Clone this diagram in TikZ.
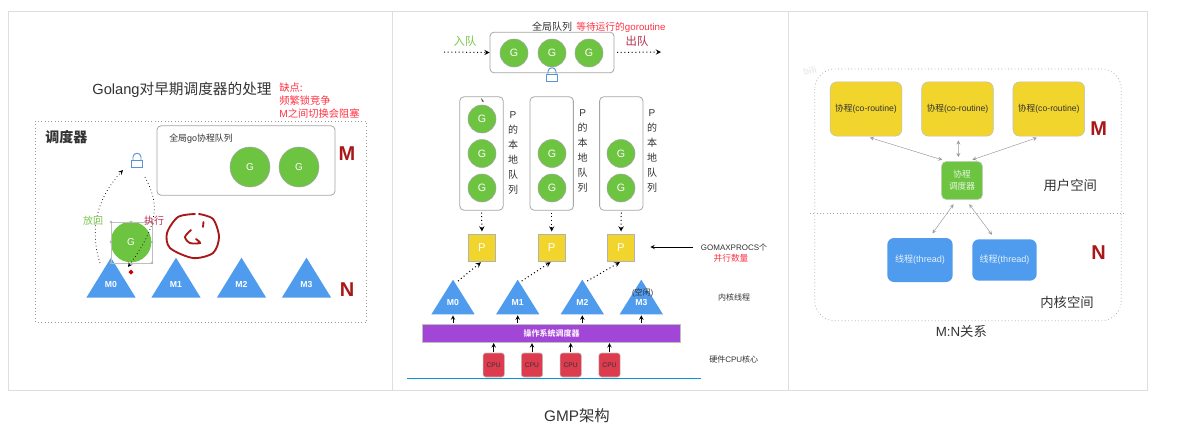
\documentclass[tikz,border=0pt]{standalone}
\usepackage{fontspec}
\usepackage{xcolor}
\usetikzlibrary{shapes.geometric}
\setmainfont{Liberation Sans}
\newfontfamily\cjk{Noto Sans CJK SC}
\newcommand{\zh}[1]{{\cjk #1}}
\definecolor{gogreen}{HTML}{6CC440}
\definecolor{triblue}{HTML}{4F9BEE}
\definecolor{boxyellow}{HTML}{F2D52C}
\definecolor{bandpurple}{HTML}{A246D8}
\definecolor{cpured}{HTML}{DD3B4E}
\definecolor{markred}{HTML}{A81818}
\definecolor{notered}{HTML}{FF3344}
\definecolor{inkgray}{HTML}{333333}
\definecolor{txtgreen}{HTML}{7CC850}
\definecolor{txtcrimson}{HTML}{B83050}
\definecolor{lockblue}{HTML}{5B94D6}
\begin{document}
\begin{tikzpicture}[x=0.75pt,y=-0.75pt,
  txt/.style={inner sep=0,text=inkgray,font=\fontsize{#1}{#1}\selectfont},
  redtxt/.style={inner sep=0,text=notered,anchor=west,font=\fontsize{#1}{#1}\selectfont},
  gnode/.style={circle,draw=black!35,fill=gogreen,text=white,inner sep=0,minimum size=#1,font=\fontsize{7.5}{7.5}\selectfont},
  tri/.style={isosceles triangle,isosceles triangle stretches,shape border rotate=90,anchor=apex,fill=triblue,inner sep=0,text=white,text depth=2.5pt,minimum height=#1,minimum width=37pt,font=\bfseries\fontsize{6.5}{6.5}\selectfont},
  qbox/.style={draw=black!35,fill=white,rounded corners=3pt,inner sep=0},
  pnode/.style={draw=black!30,fill=boxyellow,inner sep=0,minimum width=20.5pt,minimum height=20.5pt,text=white,font=\fontsize{8.5}{8.5}\selectfont},
  cpunode/.style={draw=black!25,fill=cpured,rounded corners=2pt,inner sep=0,minimum width=16pt,minimum height=18pt,text=inkgray,font=\fontsize{5}{5}\selectfont},
  conode/.style={draw=black!25,fill=boxyellow,rounded corners=5pt,inner sep=0,minimum width=53.7pt,minimum height=40.7pt,text=inkgray,font=\fontsize{6.5}{6.5}\selectfont},
  thnode/.style={fill=triblue,rounded corners=5pt,inner sep=0,text=white!85!triblue,font=\fontsize{6.8}{6.8}\selectfont},
  dotarr/.style={-stealth,dotted,line width=0.75pt,black},
  thinarr/.style={-stealth,line width=0.5pt,black},
  grayarr/.style={stealth-stealth,line width=0.35pt,black!40},
  bigmark/.style={inner sep=0,text=markred,font=\bfseries\fontsize{15}{15}\selectfont},
  vtxt/.style={inner sep=0,text=inkgray,align=center,font=\fontsize{7.5}{11.25}\selectfont},
  lockpic/.pic={\draw[lockblue,line width=0.7pt] (-5.5,0) rectangle (5.5,7);
    \draw[lockblue,line width=0.7pt] (-4,0) -- (-4,-3) .. controls (-4,-8) and (4,-8) .. (4,-3) -- (4,0);}]
\fill[white] (0,0) rectangle (1177,429);
\useasboundingbox (0,0) rectangle (1177,429);
\draw[black!13,line width=0.6pt] (8.5,11.5) rectangle (1147,390);
\draw[black!13,line width=0.6pt] (392,11.5) -- (392,390);
\draw[black!13,line width=0.6pt] (788,11.5) -- (788,390);
\node[txt=11] (title) at (182,90) {Golang\zh{对早期调度器的处理}};
\node[redtxt=7.7] (notea) at (279,88) {\zh{缺点:}};
\node[redtxt=7.7] (noteb) at (279,101) {\zh{频繁锁竞争}};
\node[redtxt=7.7] (notec) at (279,114) {M\zh{之间切换会阻塞}};
\draw[black!40,dotted,line width=0.5pt] (35.5,121) rectangle (366,322);
\node[txt=10.5,anchor=west,font=\bfseries\fontsize{10.5}{10.5}\selectfont] (sched) at (45,137) {\zh{调度器}};
\node[qbox,minimum width=133.5pt,minimum height=52pt,line width=0.6pt] (gqueue) at (246,160.5) {};
\node[txt=6.7,anchor=west] (gqlabel) at (169,139) {\zh{全局}go\zh{协程队列}};
\node[gnode=30pt] (ga) at (250,167) {G};
\node[gnode=30pt] (gb) at (299,167) {G};
\node[bigmark] (mleft) at (347,154) {M};
\node[bigmark] (nleft) at (347,290) {N};
\pic at (137,160) {lockpic};
\node[tri=30pt] (ma) at (111,257) {M0};
\node[tri=30pt] (mb) at (176,257) {M1};
\node[tri=30pt] (mc) at (241.5,257) {M2};
\node[tri=30pt] (md) at (306.5,257) {M3};
\node[gnode=30.5pt,draw=none] (grun) at (131,242) {G};
\draw[black!25,line width=0.3pt] (111,222) rectangle (152,263);
\fill[black!30] (111,222) circle (1.3) (131,222) circle (1.3) (152,222) circle (1.3) (111,242) circle (1.3) (152,242) circle (1.3) (111,263) circle (1.3) (152,263) circle (1.3);
\fill[red!80!black] (131,269.5) -- (133.5,272) -- (131,274.5) -- (128.5,272) -- cycle;
\coordinate (putstart) at (100,263);
\coordinate (putend) at (123,170);
\coordinate (runstart) at (145,177);
\coordinate (runend) at (128,267);
\draw[dotarr,line width=0.55pt] (putstart) .. controls (88,225) and (100,195) .. (putend);
\draw[dotarr,line width=0.55pt] (runstart) .. controls (160,205) and (158,225) .. (runend);
\node[inner sep=0,text=txtgreen,font=\fontsize{7.5}{7.5}\selectfont] (putlabel) at (93,221) {\zh{放回}};
\node[inner sep=0,text=txtcrimson,font=\fontsize{7.5}{7.5}\selectfont] (runlabel) at (154,221) {\zh{执行}};
\draw[markred,line width=1.4pt,line cap=round] plot[smooth] coordinates {(195,214) (178,217) (167,233) (170,248) (193,258) (213,253) (219,237) (213,219) (199,214)};
\draw[markred,line width=1.4pt,line cap=round] plot[smooth] coordinates {(191,230) (185,237) (190,243) (200,243) (196,239)};
\draw[markred,line width=1.4pt,line cap=round] (203.5,222) -- (203,227);
\node[qbox,minimum width=93pt,minimum height=30.5pt,line width=0.6pt] (gq) at (552,52.5) {};
\node[txt=7.5] (gqtitle) at (552,27) {\zh{全局队列}};
\node[redtxt=7.3] (gqnote) at (576,27) {\zh{等待运行的}goroutine};
\node[gnode=21pt,font=\fontsize{8}{8}\selectfont] (qa) at (514,53) {G};
\node[gnode=21pt,font=\fontsize{8}{8}\selectfont] (qb) at (552,53) {G};
\node[gnode=21pt,font=\fontsize{8}{8}\selectfont] (qc) at (589,53) {G};
\pic at (552,74.5) {lockpic};
\node[inner sep=0,text=txtgreen,font=\fontsize{8.5}{8.5}\selectfont] (inlabel) at (465,41) {\zh{入队}};
\node[inner sep=0,text=txtcrimson,font=\fontsize{8.5}{8.5}\selectfont] (outlabel) at (637,41) {\zh{出队}};
\coordinate (infree) at (444,52);
\coordinate (outfree) at (661,52);
\draw[dotarr] (infree) -- (gq.west);
\draw[dotarr,shorten <=2pt] (gq.east) -- (outfree);
\node[qbox,minimum width=32.5pt,minimum height=85pt,line width=0.6pt] (la) at (481.5,153.5) {};
\node[qbox,minimum width=32.5pt,minimum height=85pt,line width=0.6pt] (lb) at (551.7,153.5) {};
\node[qbox,minimum width=32.5pt,minimum height=85pt,line width=0.6pt] (lc) at (621.3,153.5) {};
\node[gnode=21pt,font=\fontsize{8}{8}\selectfont] (laa) at (482,119) {G};
\node[gnode=21pt,font=\fontsize{8}{8}\selectfont] (lab) at (482,153.5) {G};
\node[gnode=21pt,font=\fontsize{8}{8}\selectfont] (lac) at (482,188) {G};
\node[gnode=21pt,font=\fontsize{8}{8}\selectfont] (lbb) at (552,153.5) {G};
\node[gnode=21pt,font=\fontsize{8}{8}\selectfont] (lbc) at (552,188) {G};
\node[gnode=21pt,font=\fontsize{8}{8}\selectfont] (lcb) at (621,153.5) {G};
\node[gnode=21pt,font=\fontsize{8}{8}\selectfont] (lcc) at (621,188) {G};
\fill[black!70] (481,98) -- (484,101.5) -- (482,101.5) -- cycle;
\node[vtxt] (lta) at (513,152.5) {P\\\zh{的}\\\zh{本}\\\zh{地}\\\zh{队}\\\zh{列}};
\node[vtxt] (ltb) at (582.7,150.5) {P\\\zh{的}\\\zh{本}\\\zh{地}\\\zh{队}\\\zh{列}};
\node[vtxt] (ltc) at (652,150.5) {P\\\zh{的}\\\zh{本}\\\zh{地}\\\zh{队}\\\zh{列}};
\node[pnode] (pa) at (482,247.5) {P};
\node[pnode] (pb) at (551.7,247.5) {P};
\node[pnode] (pc) at (621,247.5) {P};
\draw[dotarr,shorten <=1.5pt,shorten >=1.5pt] (la.south) -- (pa.north);
\draw[dotarr,shorten <=1.5pt,shorten >=1.5pt] (lb.south) -- (pb.north);
\draw[dotarr,shorten <=1.5pt,shorten >=1.5pt] (lc.south) -- (pc.north);
\coordinate (gomaxfree) at (693,247);
\draw[thinarr,shorten >=11.5pt] (gomaxfree) -- (pc.east |- gomaxfree);
\node[txt=6] (gomaxa) at (734,247) {GOMAXPROCS\zh{个}};
\node[inner sep=0,text=notered,font=\fontsize{6.5}{6.5}\selectfont] (gomaxb) at (731,258) {\zh{并行数量}};
\node[tri=26pt,minimum width=32.5pt] (mma) at (453,279) {M0};
\node[tri=26pt,minimum width=32.5pt] (mmb) at (517.7,279) {M1};
\node[tri=26pt,minimum width=32.5pt] (mmc) at (582.3,279) {M2};
\node[tri=26pt,minimum width=32.5pt] (mmd) at (641.3,279) {M3};
\node[txt=6] (idle) at (642.7,292.5) {(\zh{空闲})};
\draw[dotarr,shorten >=1pt] ([shift={(5,2)}]mma.apex) -- (pa.south);
\draw[dotarr,shorten >=1pt] ([shift={(4,2)}]mmb.apex) -- (pb.south);
\draw[dotarr,shorten >=1pt] ([shift={(5,2)}]mmc.apex) -- (pc.south);
\node[txt=6] (kthread) at (734,297) {\zh{内核线程}};
\node[draw=black!25,fill=bandpurple,inner sep=0,minimum width=193.5pt,minimum height=13.7pt,text=white!90!bandpurple,font=\bfseries\fontsize{6}{6}\selectfont] (osband) at (551.7,333) {\zh{操作系统调度器}};
\draw[thinarr,shorten >=0.5pt,shorten <=0.5pt] (mma.lower side |- osband.north) -- (mma.lower side);
\draw[thinarr,shorten >=0.5pt,shorten <=0.5pt] (mmb.lower side |- osband.north) -- (mmb.lower side);
\draw[thinarr,shorten >=0.5pt,shorten <=0.5pt] (mmc.lower side |- osband.north) -- (mmc.lower side);
\draw[thinarr,shorten >=0.5pt,shorten <=0.5pt] (mmd.lower side |- osband.north) -- (mmd.lower side);
\node[cpunode] (cpua) at (493.7,365) {CPU};
\node[cpunode] (cpub) at (532,365) {CPU};
\node[cpunode] (cpuc) at (570.7,365) {CPU};
\node[cpunode] (cpud) at (609.5,365) {CPU};
\draw[thinarr,shorten >=0.5pt,shorten <=0.5pt] (cpua.north) -- (cpua.north |- osband.south);
\draw[thinarr,shorten >=0.5pt,shorten <=0.5pt] (cpub.north) -- (cpub.north |- osband.south);
\draw[thinarr,shorten >=0.5pt,shorten <=0.5pt] (cpuc.north) -- (cpuc.north |- osband.south);
\draw[thinarr,shorten >=0.5pt,shorten <=0.5pt] (cpud.north) -- (cpud.north |- osband.south);
\draw[cyan!80!blue,line width=0.8pt] (407,378.5) -- (701,378.5);
\node[txt=6] (hwcpu) at (733.7,359) {\zh{硬件}CPU\zh{核心}};
\node[inner sep=0,text=black!8,font=\bfseries\fontsize{7}{7}\selectfont,rotate=15] (wmark) at (810,71) {bili};
\draw[black!40,dotted,line width=0.5pt,rounded corners=15pt] (814.7,69) rectangle (1121.3,320.7);
\draw[black!35,dotted,line width=0.5pt] (810,213.7) -- (1126,213.7);
\node[conode] (coa) at (866,109) {\zh{协程}(co-routine)};
\node[conode] (cob) at (957.5,109) {\zh{协程}(co-routine)};
\node[conode] (coc) at (1048.8,109) {\zh{协程}(co-routine)};
\node[bigmark] (mright) at (1098.7,129) {M};
\node[draw=black!20,fill=gogreen,rounded corners=4pt,inner sep=0,minimum width=31pt,minimum height=28.8pt,align=center,text=white!85!gogreen,font=\fontsize{6.5}{9}\selectfont] (cosched) at (962,180.5) {\zh{协程}\\\zh{调度器}};
\node[thnode,minimum width=49pt,minimum height=33pt] (tha) at (920,260) {\zh{线程}(thread)};
\node[thnode,minimum width=48.3pt,minimum height=31pt] (thb) at (1004.5,260) {\zh{线程}(thread)};
\node[bigmark] (nright) at (1098.7,252.7) {N};
\node[txt=10] (userspace) at (1070.3,185.7) {\zh{用户空间}};
\node[txt=10] (kernspace) at (1067,302.3) {\zh{内核空间}};
\draw[grayarr,shorten <=3pt,shorten >=3pt] (coa.south) -- ([xshift=-12pt]cosched.north);
\draw[grayarr,shorten <=3pt,shorten >=3pt] ([xshift=0.6pt]cob.south) -- ([xshift=-2.7pt]cosched.north);
\draw[grayarr,shorten <=3pt,shorten >=3pt] ([xshift=-6pt]coc.south) -- ([xshift=5pt]cosched.north);
\draw[grayarr,shorten <=4pt,shorten >=4pt] ([xshift=-4pt]cosched.south) -- ([xshift=7pt]tha.north);
\draw[grayarr,shorten <=4pt,shorten >=4pt] ([xshift=3pt]cosched.south) -- ([xshift=-7pt]thb.north);
\node[txt=10] (mnlabel) at (961.3,331.7) {M:N\zh{关系}};
\node[txt=11.5] (caption) at (577,416) {GMP\zh{架构}};
\end{tikzpicture}
\end{document}
